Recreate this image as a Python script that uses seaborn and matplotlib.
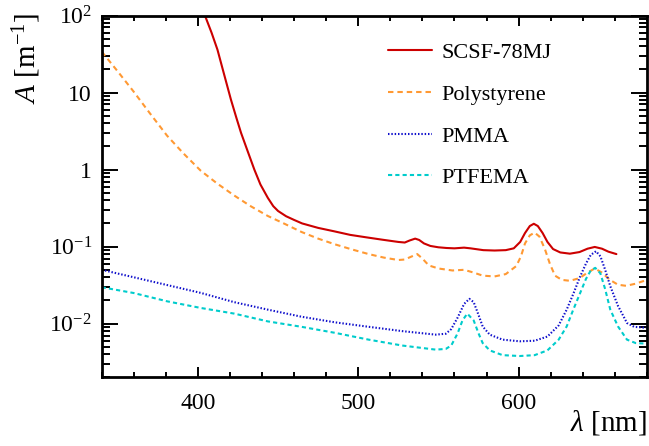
import numpy as np
import pandas as pd
import matplotlib
matplotlib.use("Agg")
import matplotlib.pyplot as plt
from matplotlib.ticker import MultipleLocator, LogLocator, FixedLocator, FuncFormatter, NullFormatter
import seaborn as sns

# ---------------- data ----------------
scsf_wl = [404, 408.5, 412.2, 416, 420.6, 424, 426.9, 431, 435.2, 439, 443.6, 447, 450, 455, 460,
           465, 475, 485, 495, 505, 515, 525, 529, 532, 535.5, 538, 541, 545, 550, 555, 560, 566,
           570, 578, 585, 592, 597, 601, 604, 607, 609.5, 612, 615, 618, 621.5, 626, 632, 638, 643,
           647.5, 652, 656, 661]
scsf_abs = [105, 60, 36, 18.3, 8.1, 4.7, 3.0, 1.74, 1.0, 0.64, 0.43, 0.335, 0.29, 0.248, 0.222,
            0.20, 0.175, 0.158, 0.142, 0.132, 0.123, 0.115, 0.113, 0.12, 0.127, 0.122, 0.11, 0.102,
            0.098, 0.096, 0.095, 0.097, 0.095, 0.090, 0.089, 0.090, 0.095, 0.115, 0.15, 0.185, 0.198,
            0.185, 0.15, 0.115, 0.093, 0.084, 0.081, 0.085, 0.094, 0.099, 0.094, 0.086, 0.080]

ps_wl = [340, 350, 359.9, 370, 380.8, 391, 401.7, 412, 422.7, 433, 443.6, 454, 464.6, 475, 485.5,
         496, 506.5, 516, 525, 529, 533, 536.8, 540, 544, 550, 558.8, 566, 572, 577.6, 585, 592,
         598.6, 601.5, 604, 607, 610, 613, 616.4, 619.5, 622.7, 627, 632, 638, 643, 647.5, 652,
         657, 662, 667, 673, 680]
ps_abs = [34, 18.8, 10.3, 5.4, 2.75, 1.62, 0.97, 0.66, 0.46, 0.334, 0.250, 0.198, 0.155, 0.127,
          0.107, 0.092, 0.080, 0.072, 0.067, 0.068, 0.074, 0.080, 0.070, 0.057, 0.052, 0.049, 0.050,
          0.046, 0.042, 0.041, 0.044, 0.056, 0.075, 0.11, 0.14, 0.152, 0.135, 0.093, 0.060, 0.042,
          0.037, 0.036, 0.039, 0.046, 0.052, 0.046, 0.037, 0.032, 0.031, 0.033, 0.037]

pmma_wl = [340, 360, 380, 401.7, 422.7, 443.6, 464.6, 485.5, 506.5, 527.4, 548.3, 554.6, 558, 562,
           566, 569.3, 572, 575, 577.6, 582, 590, 600.7, 610, 618, 625, 630, 634, 638.4, 642, 645,
           648.3, 651, 654, 657.2, 662, 667.6, 672, 677.6, 680]
pmma_abs = [0.050, 0.040, 0.032, 0.0251, 0.019, 0.0152, 0.0123, 0.0104, 0.0091, 0.0080, 0.0072,
            0.0074, 0.0085, 0.012, 0.018, 0.021, 0.019, 0.013, 0.0092, 0.0072, 0.0062, 0.0059,
            0.0060, 0.0068, 0.0095, 0.0152, 0.024, 0.041, 0.060, 0.078, 0.087, 0.075, 0.050,
            0.0306, 0.017, 0.0102, 0.0091, 0.0089, 0.0089]

ptfema_wl = [340, 359.9, 380.8, 401.7, 422.7, 443.6, 464.6, 485.5, 506.5, 527.4, 548.3, 554.6, 558,
             562, 565, 568, 572, 575, 577.6, 582, 590, 600.7, 610, 618, 625, 630, 634, 638.4, 642,
             645, 647.8, 651, 654, 657.2, 662, 667.6, 673, 680]
ptfema_abs = [0.0297, 0.025, 0.0195, 0.016, 0.0135, 0.0107, 0.0091, 0.0076, 0.0062, 0.0052, 0.0046,
              0.0047, 0.0052, 0.0075, 0.011, 0.0135, 0.011, 0.0075, 0.0056, 0.0045, 0.0039, 0.0038,
              0.0039, 0.0045, 0.0062, 0.0092, 0.015, 0.025, 0.038, 0.049, 0.053, 0.045, 0.028,
              0.0152, 0.0092, 0.0062, 0.0056, 0.0055]

series_names = ["SCSF-78MJ", "Polystyrene", "PMMA", "PTFEMA"]
y_major_ticks = [1e-2, 1e-1, 1, 10, 100]
y_tick_labels = [r"$10^{-2}$", r"$10^{-1}$", "1", "10", r"$10^{2}$"]
x_label = r"$\lambda$ [nm]"
y_label = r"$A$ [m$^{-1}$]"

# ---------------- style ----------------
sns.set_style("ticks")
plt.rcParams["font.family"] = ["Liberation Serif", "DejaVu Serif"]
plt.rcParams["mathtext.fontset"] = "custom"
plt.rcParams["mathtext.rm"] = "Liberation Serif"
plt.rcParams["mathtext.it"] = "Liberation Serif:italic"
plt.rcParams["mathtext.bf"] = "Liberation Serif:bold"
for k in ["text.color", "axes.labelcolor", "axes.edgecolor", "xtick.color", "ytick.color"]:
    plt.rcParams[k] = "black"

fig = plt.figure(figsize=(6.49, 4.46), dpi=100)
ax = fig.add_axes([0.1567, 0.1536, 0.840, 0.8116])

frames = {
    "SCSF-78MJ": pd.DataFrame({"wl": scsf_wl, "A": scsf_abs}),
    "Polystyrene": pd.DataFrame({"wl": ps_wl, "A": ps_abs}),
    "PMMA": pd.DataFrame({"wl": pmma_wl, "A": pmma_abs}),
    "PTFEMA": pd.DataFrame({"wl": ptfema_wl, "A": ptfema_abs}),
}
styles = {
    "SCSF-78MJ": dict(color="#cc0000", linestyle="-"),
    "Polystyrene": dict(color="#ff9933", linestyle=(0, (2.6, 1.9))),
    "PMMA": dict(color="#1010cc", linestyle=(0, (0.7, 0.9))),
    "PTFEMA": dict(color="#00cccc", linestyle=(0, (2.0, 1.5))),
}
for name in series_names:
    sns.lineplot(data=frames[name], x="wl", y="A", ax=ax, label=name, lw=1.5,
                 estimator=None, sort=False, **styles[name])

ax.set_yscale("log")
ax.set_xlim(340, 680)
ax.set_ylim(0.002, 100)

ax.xaxis.set_major_locator(MultipleLocator(100))
ax.xaxis.set_minor_locator(MultipleLocator(20))
ax.yaxis.set_major_locator(FixedLocator(y_major_ticks))
ax.yaxis.set_major_formatter(FuncFormatter(lambda v, p: dict(zip(y_major_ticks, y_tick_labels)).get(v, "")))
ax.yaxis.set_minor_locator(LogLocator(base=10, subs=np.arange(2, 10)))
ax.yaxis.set_minor_formatter(NullFormatter())

for s in ax.spines.values():
    s.set_linewidth(2.0)
    s.set_visible(True)
    s.set_color("black")
ax.tick_params(which="both", direction="in", top=True, right=True, width=1.4, labelsize=17,
               color="black", labelcolor="black")
ax.tick_params(axis="x", which="major", length=7.5, pad=11)
ax.tick_params(axis="x", which="minor", length=3.8)
ax.tick_params(axis="y", which="major", length=11.5, pad=7)
ax.tick_params(axis="y", which="minor", length=5.8)

ax.set_xlabel(x_label, fontsize=21, loc="right", color="black")
ax.xaxis.set_label_coords(1.0, -0.085)
ax.set_ylabel(y_label, fontsize=21, loc="top", color="black")
ax.yaxis.set_label_coords(-0.108, 1.007)

leg = ax.legend(loc="upper left", bbox_to_anchor=(0.525, 0.925), frameon=False, fontsize=16,
                handlelength=2.0, handletextpad=0.4, labelspacing=0.95, borderpad=0, borderaxespad=0)
for t in leg.get_texts():
    t.set_color("black")

fig.savefig("out.png", dpi=100)
